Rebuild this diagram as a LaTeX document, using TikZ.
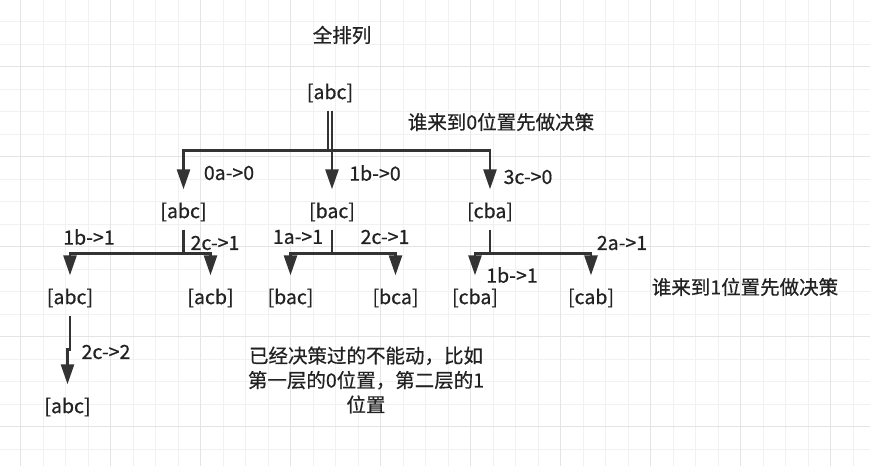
\documentclass[tikz,border=0pt]{standalone}
\usepackage{fontspec}
\setmainfont{Noto Sans CJK SC}[RawFeature={embolden=0.6}]
\usetikzlibrary{arrows.meta}
\definecolor{Ink}{HTML}{333333}
\definecolor{TextInk}{HTML}{222222}
\definecolor{GridMinor}{HTML}{F1F1F1}
\definecolor{GridMajor}{HTML}{E4E4E4}

\begin{document}
\begin{tikzpicture}[
  x=1pt,y=-1pt,
  font=\fontsize{19.5}{24.5}\selectfont,
  text=TextInk,
  flow/.style={-{Triangle[length=20pt,width=13pt]},draw=Ink,
    line width=2.7pt,shorten >=5pt},
  perm/.style={inner sep=0pt,minimum height=35pt},
  lbl/.style={inner sep=0pt},
  minorline/.style={draw=GridMinor,line width=1.2pt},
  majorline/.style={draw=GridMajor,line width=1.3pt}
]
  \useasboundingbox (0,0) rectangle (870,466);
  \fill[white] (0,0) rectangle (870,466);

  % background grid
  \foreach \gx in {-1.8,20.7,...,870} \draw[minorline] (\gx,0) -- (\gx,466);
  \foreach \gy in {-0.8,21.7,...,466} \draw[minorline] (0,\gy) -- (870,\gy);
  \foreach \gx in {20.7,110.7,...,870} \draw[majorline] (\gx,0) -- (\gx,466);
  \foreach \gy in {66.7,156.7,...,466} \draw[majorline] (0,\gy) -- (870,\gy);

  \node[lbl] (title) at (342,35) {全排列};

  \node[perm] (root) at (330,93) {[abc]};

  \node[perm] (n1) at (183.5,212) {[abc]};
  \node[perm] (n2) at (332,212) {[bac]};
  \node[perm] (n3) at (490,212) {[cba]};

  \node[perm] (n11) at (70,298) {[abc]};
  \node[perm] (n12) at (210.5,298) {[acb]};
  \node[perm] (n21) at (290.5,298) {[bac]};
  \node[perm] (n22) at (395.5,298) {[bca]};
  \node[perm] (n31) at (475,298) {[cba]};
  \node[perm] (n32) at (591,298) {[cab]};

  \node[perm] (n111) at (67.5,407) {[abc]};

  \draw[flow] ([xshift=-2pt]root.south) -- ++(0,40) -| (n1);
  \draw[flow] ([xshift=-2pt]root.south) -- ++(0,40) -| (n3);
  \draw[flow] ([xshift=2pt]root.south) -- (n2);

  \draw[flow] (n1.south) -- ++(0,24) -| (n11);
  \draw[flow] (n1.south) -- ++(0,24) -| (n12);
  \draw[flow] (n2.south) -- ++(0,24) -| (n21);
  \draw[flow] (n2.south) -- ++(0,24) -| (n22);
  \draw[flow] (n3.south) -- ++(0,24) -| (n31);
  \draw[flow] (n3.south) -- ++(0,24) -| (n32);

  \draw[flow] (n11.south) -- ++(0,34) -| (n111);

  \node[lbl] (l1) at (229,173) {0a->0};
  \node[lbl] (l2) at (375,173) {1b->0};
  \node[lbl] (l3) at (528,177) {3c->0};
  \node[lbl] (l11) at (89,237) {1b->1};
  \node[lbl] (l12) at (215,243) {2c->1};
  \node[lbl] (l21) at (298,237) {1a->1};
  \node[lbl] (l22) at (385,237) {2c->1};
  \node[lbl] (l31) at (512,275) {1b->1};
  \node[lbl] (l32) at (622,243) {2a->1};
  \node[lbl] (l111) at (106,352) {2c->2};

  \node[lbl] (who0) at (501,122) {谁来到0位置先做决策};
  \node[lbl] (who1) at (745,287) {谁来到1位置先做决策};
  \node[lbl,align=center] (fixed) at (366,380)
    {已经决策过的不能动，比如\\第一层的0位置，第二层的1\\位置};
\end{tikzpicture}
\end{document}
